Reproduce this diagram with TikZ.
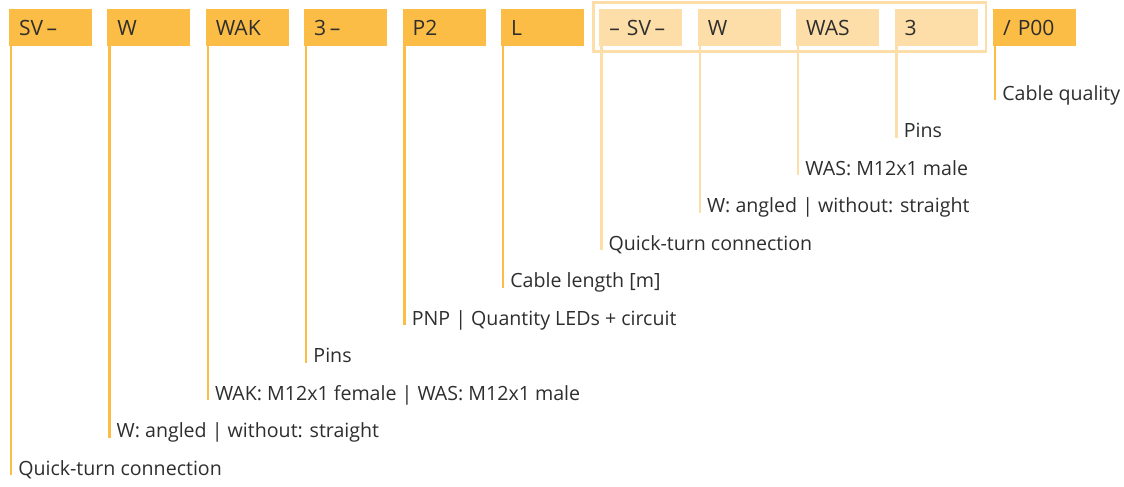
\documentclass[tikz,border=0pt]{standalone}
\usepackage{fontspec}
\setmainfont{Open Sans}
\usetikzlibrary{positioning}
\definecolor{codeor}{HTML}{FBBD45}
\definecolor{codelt}{HTML}{FDDEA8}
\definecolor{txtgray}{HTML}{2E2E2E}
\tikzset{
  code/.style={fill=codeor, minimum width=62.25pt, minimum height=28pt, inner sep=0pt, inner xsep=7.5pt, outer sep=0pt, text width=47.25pt, align=left, font=\fontsize{15.8}{18}\selectfont, text=txtgray},
  codept/.style={code, fill=codelt},
  expl/.style={anchor=base west, inner sep=0pt, font=\fontsize{14.7}{17}\selectfont, text=txtgray},
  lead/.style={draw=codeor, line width=1.9pt},
  leadlt/.style={lead, draw=codelt},
}
\begin{document}
\begin{tikzpicture}[x=0.75pt, y=-0.75pt]
	\useasboundingbox (0,0) rectangle (1124,486);
	% Rahmen um den zweiten Steckverbinder
	\draw[codelt, line width=2.2pt] (593.5,2.5) rectangle (986,51.5);
	
	% Bestellschluessel
	\node[code, anchor=north west] (sv) at (9,9) {SV\,–};
	\node[code, right=11.55pt of sv] (w) {W};
	\node[code, right=11.55pt of w] (wak) {WAK};
	\node[code, right=11.55pt of wak] (pins) {3\,–};
	\node[code, right=11.55pt of pins] (pnp) {P2};
	\node[code, right=11.55pt of pnp] (len) {L};
	\node[codept, right=11.55pt of len] (sv2) {–\ SV\,–};
	\node[codept, right=11.55pt of sv2] (w2) {W};
	\node[codept, right=11.55pt of w2] (was) {WAS};
	\node[codept, right=11.55pt of was] (pins2) {3};
	\node[code, right=11.55pt of pins2] (qual) {/ P00};
	
	% Erklaerungen
	\node[expl] (lqual) at (1002,100) {Cable quality};
	\node[expl] (lpins2) at (903.6,137.5) {Pins};
	\node[expl] (lwas) at (805.2,175) {WAS: M12x1 male};
	\node[expl] (lw2) at (706.8,212.5) {W: angled | without: straight};
	\node[expl] (lsv2) at (608.4,250) {Quick-turn connection};
	\node[expl] (llen) at (510,287.5) {Cable length [m]};
	\node[expl] (lpnp) at (411.6,325) {PNP | Quantity LEDs + circuit};
	\node[expl] (lpins) at (313.2,362.5) {Pins};
	\node[expl] (lwak) at (214.8,400) {WAK: M12x1 female | WAS: M12x1 male};
	\node[expl] (lw) at (116.4,437.5) {W: angled | without: straight};
	\node[expl] (lsv) at (18,475) {Quick-turn connection};
	
	% Fuehrungslinien
	\draw[lead] ([xshift=1.5pt]sv.south west) -- ([xshift=1.5pt]sv.south west |- lsv.base);
	\draw[lead] ([xshift=1.5pt]w.south west) -- ([xshift=1.5pt]w.south west |- lw.base);
	\draw[lead] ([xshift=1.5pt]wak.south west) -- ([xshift=1.5pt]wak.south west |- lwak.base);
	\draw[lead] ([xshift=1.5pt]pins.south west) -- ([xshift=1.5pt]pins.south west |- lpins.base);
	\draw[lead] ([xshift=1.5pt]pnp.south west) -- ([xshift=1.5pt]pnp.south west |- lpnp.base);
	\draw[lead] ([xshift=1.5pt]len.south west) -- ([xshift=1.5pt]len.south west |- llen.base);
	\draw[leadlt] ([xshift=1.5pt]sv2.south west) -- ([xshift=1.5pt]sv2.south west |- lsv2.base);
	\draw[leadlt] ([xshift=1.5pt]w2.south west) -- ([xshift=1.5pt]w2.south west |- lw2.base);
	\draw[leadlt] ([xshift=1.5pt]was.south west) -- ([xshift=1.5pt]was.south west |- lwas.base);
	\draw[leadlt] ([xshift=1.5pt]pins2.south west) -- ([xshift=1.5pt]pins2.south west |- lpins2.base);
	\draw[lead] ([xshift=1.5pt]qual.south west) -- ([xshift=1.5pt]qual.south west |- lqual.base);
\end{tikzpicture}
\end{document}
